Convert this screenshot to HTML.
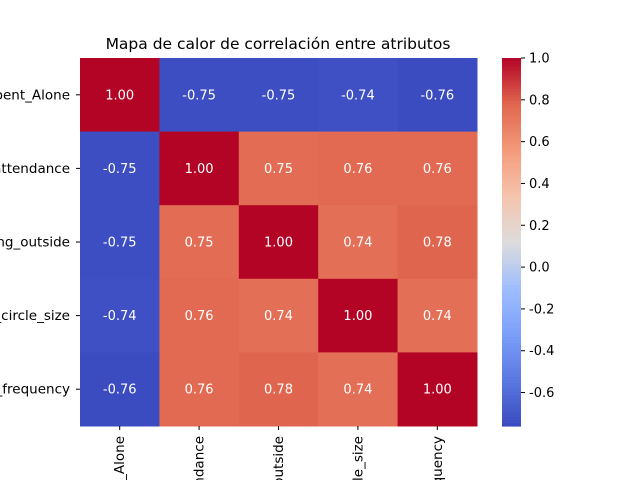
<!DOCTYPE html>
<html><head><meta charset="utf-8"><style>
html,body{margin:0;width:640px;height:480px;overflow:hidden;background:#fff;font-family:"Liberation Sans","DejaVu Sans",sans-serif;}
svg{display:block;overflow:hidden;}
svg text{font-family:"DejaVu Sans","Liberation Sans",sans-serif;}
</style></head><body>
<svg id="c" width="640" height="480" viewBox="0 0 640 480" xmlns="http://www.w3.org/2000/svg">
<text x="278" y="49" font-size="15.5" text-anchor="middle">Mapa de calor de correlación entre atributos</text>
<g id="cells"></g>
<g id="ylab"></g>
<g id="xlab"></g>
<g id="cbar"></g>
</svg>
<script>
const labels=["Time_spent_Alone","Social_event_attendance","Going_outside","Friends_circle_size","Post_frequency"];
const row0=[1.00,-0.75,-0.75,-0.74,-0.76];
const row1=[-0.75,1.00,0.75,0.76,0.76];
const row2=[-0.75,0.75,1.00,0.74,0.78];
const row3=[-0.74,0.76,0.74,1.00,0.74];
const row4=[-0.76,0.76,0.78,0.74,1.00];
const matrix=[row0,row1,row2,row3,row4];
const cbTicks=[1.0,0.8,0.6,0.4,0.2,0.0,-0.2,-0.4,-0.6];
const vmin=-0.76,vmax=1.0;
const NS="http://www.w3.org/2000/svg";
const X0=80,X1=477,Y0=58,Y1=426;
const cw=(X1-X0)/5,ch=(Y1-Y0)/5;
const stops=[[0,[59,76,192]],[0.125,[90,120,226]],[0.25,[124,159,249]],[0.375,[160,190,254]],[0.5,[221,220,220]],[0.625,[245,196,172]],[0.75,[244,154,123]],[0.875,[224,101,79]],[1,[180,4,38]]];
function cmap(t){t=Math.max(0,Math.min(1,t));for(let i=1;i<stops.length;i++){if(t<=stops[i][0]){const a=stops[i-1],b=stops[i];const f=(t-a[0])/(b[0]-a[0]);const c=a[1].map((v,k)=>Math.round(v+(b[1][k]-v)*f));return `rgb(${c})`;}}return "rgb(180,4,38)";}
function norm(v){return (v-vmin)/(vmax-vmin);}
function el(tag,attrs,parent){const e=document.createElementNS(NS,tag);for(const k in attrs)e.setAttribute(k,attrs[k]);parent.appendChild(e);return e;}
const cells=document.getElementById('cells');
matrix.forEach((row,r)=>row.forEach((v,c)=>{
 const rect=el('rect',{x:X0+c*cw,y:Y0+r*ch,width:cw+0.5,height:ch+0.5,fill:cmap(norm(v))},cells);
 
 
 const t=el('text',{x:X0+(c+0.5)*cw,y:Y0+(r+0.5)*ch+4.5,'font-size':13,'text-anchor':'middle',fill:'#fff'},cells);
 t.textContent=v.toFixed(2);
 
 
}));
const yl=document.getElementById('ylab'),xl=document.getElementById('xlab');
labels.forEach((l,i)=>{
 const y=Y0+(i+0.5)*ch;
 el('line',{x1:X0-4,x2:X0,y1:y,y2:y,stroke:'#000'},yl);
 const t=el('text',{x:X0-10,y:y+4.5,'font-size':13.5,'text-anchor':'end'},yl);
 t.textContent=l;
 
 
 const x=X0+(i+0.5)*cw;
 el('line',{x1:x,x2:x,y1:Y1,y2:Y1+4,stroke:'#000'},xl);
 const u=el('text',{x:0,y:0,'font-size':13.5,'text-anchor':'end',transform:`translate(${x+4.5},${Y1+10}) rotate(-90)`},xl);
 u.textContent=l;
 
 
});
const cb=document.getElementById('cbar');
const BX=502,BW=19,N=120;
for(let i=0;i<N;i++){const y=Y0+i*(Y1-Y0)/N;const v=vmax-(i+0.5)/N*(vmax-vmin);el('rect',{x:BX,y:y,width:BW,height:(Y1-Y0)/N+0.6,fill:cmap(norm(v))},cb);}
cbTicks.forEach(v=>{
 const y=Y0+(vmax-v)/(vmax-vmin)*(Y1-Y0);
 el('line',{x1:BX+BW,x2:BX+BW+4,y1:y,y2:y,stroke:'#000'},cb);
 const t=el('text',{x:BX+BW+8,y:y+4.5,'font-size':13},cb);
 t.textContent=v.toFixed(1);
 
 
});
</script>
</body></html>
